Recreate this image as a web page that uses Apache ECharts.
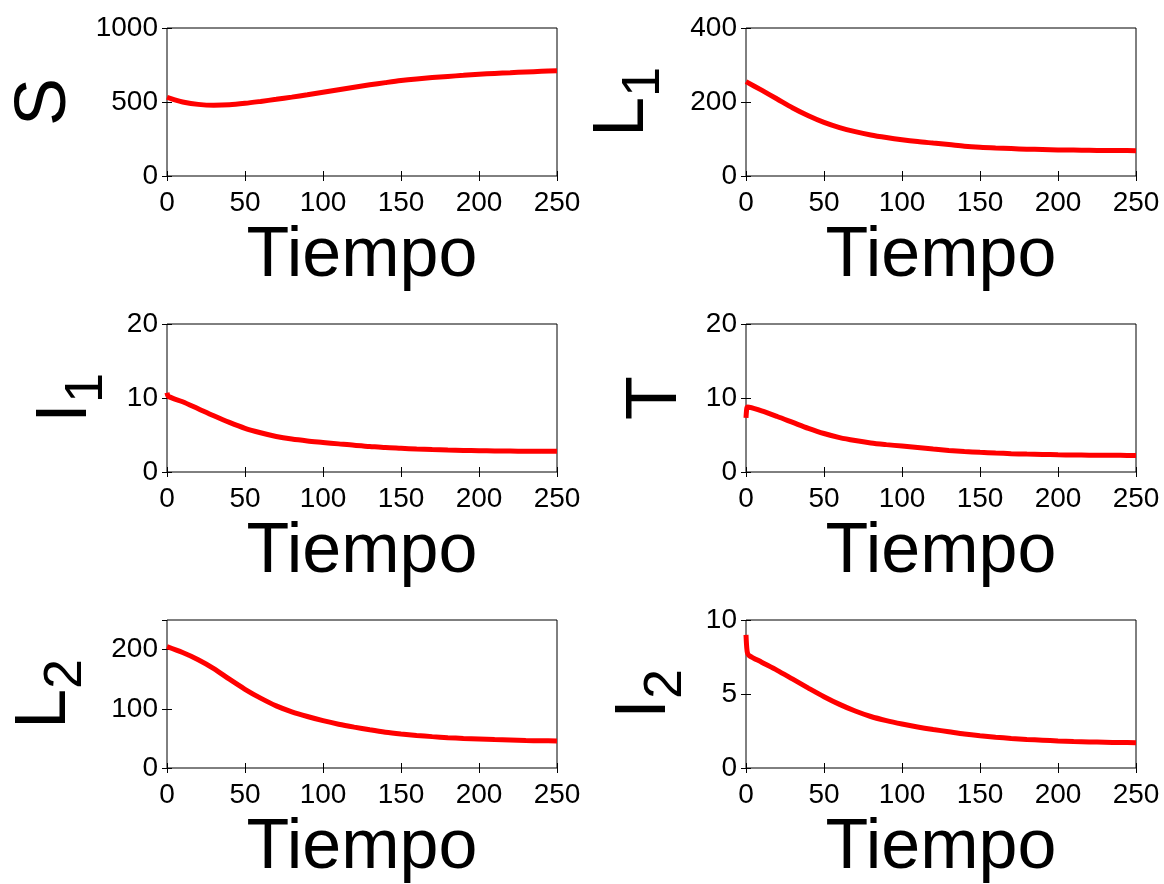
<!DOCTYPE html>
<html><head><meta charset="utf-8">
<script src="https://cdn.jsdelivr.net/npm/echarts@6/dist/echarts.min.js"></script>
<style>html,body{margin:0;padding:0;background:#fff}#c{width:1164px;height:884px}</style>
</head><body><div id="c"></div>
<script>
// shared time grid (t = 10 .. 250)
const time = [10,20,30,40,50,60,70,80,90,100,110,120,130,140,150,160,170,180,190,200,210,220,230,240,250];

// S
const sStartTime = [0, 5];
const sStartVals = [532, 514];
const sVals = [500,484,478,481,491,504,518,533,549,566,583,600,616,631,645,656,665,673,680,687,693,698,703,707,711];
// L1
const l1StartTime = [0];
const l1StartVals = [255];
const l1Vals = [232,208,184,163,145,131,120,111,104,98,93,89,85,80.5,77.5,75.5,74,72.5,71.5,70.5,70,69.5,69,68.8,68.5];
// I1
const i1StartTime = [0, 1];
const i1StartVals = [10.7, 10.2];
const i1Vals = [9.5,8.55,7.6,6.7,5.9,5.3,4.8,4.45,4.2,4.0,3.8,3.6,3.45,3.3,3.2,3.1,3.03,2.97,2.92,2.88,2.85,2.83,2.81,2.8,2.79];
// T
const tStartTime = [0, 0.5, 1];
const tStartVals = [7.3, 8.6, 8.8];
const tVals = [8.25,7.5,6.7,5.9,5.2,4.65,4.25,3.93,3.7,3.5,3.3,3.1,2.92,2.78,2.66,2.56,2.48,2.42,2.37,2.33,2.3,2.28,2.26,2.25,2.24];
// L2
const l2StartTime = [0];
const l2StartVals = [205];
const l2Vals = [195,183,168,150,133,118,105,95,87,80,74,69,64.5,60.5,57.5,55,53,51.3,50,49,48,47.2,46.5,46,45.6];
// I2
const i2StartTime = [0, 0.5, 1, 2];
const i2StartVals = [9.0, 8.1, 7.75, 7.6];
const i2Vals = [7.15,6.6,6.0,5.4,4.82,4.3,3.85,3.48,3.2,2.97,2.77,2.6,2.45,2.3,2.18,2.08,2.0,1.93,1.88,1.83,1.79,1.76,1.74,1.72,1.71];

// axes
const xMin = 0, xMax = 250, xInterval = 50;
const xTitle = 'Tiempo';
const yTitles = ['{m|S}', '{m|L}{s|1}', '{m|I}{s|1}', '{m|T}', '{m|L}{s|2}', '{m|I}{s|2}'];
const yMaxes = [1000, 400, 20, 20, 250, 10];
const yIntervals = [500, 200, 10, 10, 100, 5];

const panels = [
  [sStartTime, sStartVals, sVals],
  [l1StartTime, l1StartVals, l1Vals],
  [i1StartTime, i1StartVals, i1Vals],
  [tStartTime, tStartVals, tVals],
  [l2StartTime, l2StartVals, l2Vals],
  [i2StartTime, i2StartVals, i2Vals]
];

// layout
const lefts = [167, 746];
const tops = [28, 324, 620];
const W = 390, H = 148;
const yNameGaps = [86, 87, 65, 54, 86, 65];
const FONT = 'Liberation Sans';

const grid = [], xAxis = [], yAxis = [], series = [];
panels.forEach((p, i) => {
  const col = i % 2, row = Math.floor(i / 2);
  grid.push({left: lefts[col], top: tops[row], width: W, height: H, containLabel: false, outerBoundsMode: 'none',
    show: true, borderColor: '#000', borderWidth: 1, backgroundColor: 'transparent'});
  const tick = {show: true, inside: true, length: 5, lineStyle: {color: '#000', width: 1}};
  xAxis.push({type: 'value', gridIndex: i, position: 'bottom', min: xMin, max: xMax, interval: xInterval,
    axisLine: {show: false}, axisTick: tick, splitLine: {show: false},
    axisLabel: {color: '#000', fontSize: 28, fontFamily: FONT, margin: 13, formatter: v => String(v)},
    name: xTitle, nameLocation: 'middle', nameGap: 45,
    nameTextStyle: {color: '#000', fontSize: 70, fontFamily: FONT, lineHeight: 72}});
  xAxis.push({type: 'value', gridIndex: i, position: 'top', min: xMin, max: xMax, interval: xInterval,
    axisLine: {show: false}, axisTick: tick, splitLine: {show: false}, axisLabel: {show: false}});
  yAxis.push({type: 'value', gridIndex: i, position: 'left', min: 0, max: yMaxes[i], interval: yIntervals[i],
    axisLine: {show: false}, axisTick: tick, splitLine: {show: false},
    axisLabel: {color: '#000', fontSize: 28, fontFamily: FONT, margin: 9, formatter: v => String(v),
      showMaxLabel: yMaxes[i] % yIntervals[i] === 0},
    name: yTitles[i], nameLocation: 'middle', nameGap: yNameGaps[i],
    nameTextStyle: {color: '#000', fontFamily: FONT,
      rich: {m: {fontSize: 72, lineHeight: 72, fontFamily: FONT, color: '#000'},
             s: {fontSize: 54, lineHeight: 54, fontFamily: FONT, color: '#000', padding: [42, 0, 0, 0]}}}});
  yAxis.push({type: 'value', gridIndex: i, position: 'right', min: 0, max: yMaxes[i], interval: yIntervals[i],
    axisLine: {show: false}, axisTick: tick, splitLine: {show: false}, axisLabel: {show: false}});
  const data = [];
  p[0].forEach((t, k) => data.push([t, p[1][k]]));
  time.forEach((t, k) => data.push([t, p[2][k]]));
  series.push({type: 'line', xAxisIndex: 2 * i, yAxisIndex: 2 * i, data: data,
    showSymbol: false, smooth: 0.3, animation: false,
    lineStyle: {color: '#ff0000', width: 5}});
});

const chart = echarts.init(document.getElementById('c'), null, {renderer: 'canvas'});
chart.setOption({animation: false, backgroundColor: '#fff', grid, xAxis, yAxis, series});
</script>
</body></html>
